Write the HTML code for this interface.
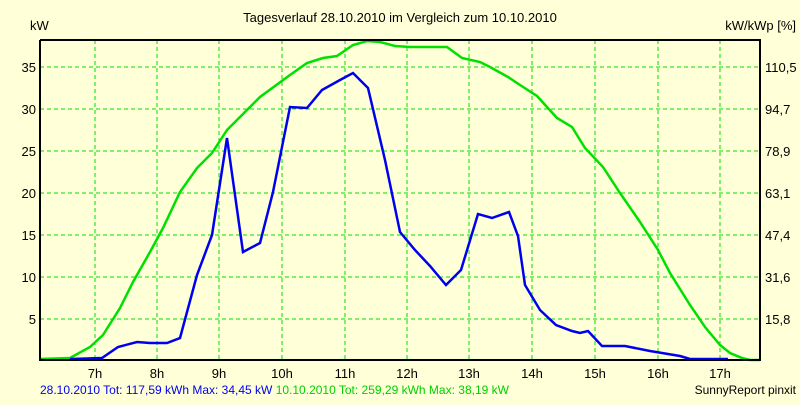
<!DOCTYPE html>
<html><head><style>body{margin:0;background:#FFFFD8}</style></head><body>
<svg width="800" height="400" xmlns="http://www.w3.org/2000/svg" font-family="Liberation Sans, sans-serif" font-size="13">
<rect width="800" height="400" fill="#FFFFD8"/>
<text x="400" y="22" text-anchor="middle" fill="#000">Tagesverlauf 28.10.2010 im Vergleich zum 10.10.2010</text>
<text x="30" y="30" fill="#000">kW</text>
<text x="796" y="30" text-anchor="end" fill="#000">kW/kWp [%]</text>
<g stroke="#00E000" stroke-dasharray="4,3" stroke-width="1">
<line x1="95" y1="40" x2="95" y2="360"/><line x1="157" y1="40" x2="157" y2="360"/><line x1="219" y1="40" x2="219" y2="360"/><line x1="282" y1="40" x2="282" y2="360"/><line x1="345" y1="40" x2="345" y2="360"/><line x1="407" y1="40" x2="407" y2="360"/><line x1="469" y1="40" x2="469" y2="360"/><line x1="532" y1="40" x2="532" y2="360"/><line x1="595" y1="40" x2="595" y2="360"/><line x1="658" y1="40" x2="658" y2="360"/><line x1="720" y1="40" x2="720" y2="360"/>
<line x1="40" y1="67" x2="760" y2="67"/><line x1="40" y1="109" x2="760" y2="109"/><line x1="40" y1="151" x2="760" y2="151"/><line x1="40" y1="193" x2="760" y2="193"/><line x1="40" y1="235" x2="760" y2="235"/><line x1="40" y1="277" x2="760" y2="277"/><line x1="40" y1="319" x2="760" y2="319"/>
</g>
<polyline fill="none" stroke="#00E000" stroke-width="2.5" points="40,359 70,358 90,347 103,335 120,308 133,282 150,252 163,228 180,192 197,168 212,153 227,130 247,110 260,97 290,75 307,63 323,58 337,56 353,45 367,41 380,42 395,46 410,47 447,47 462,58 480,62 490,67 508,77 520,85 537,96 557,118 572,127 585,148 603,167 620,193 640,222 658,250 670,273 690,305 705,327 720,345 730,353 742,358 750,360 760,360"/>
<polyline fill="none" stroke="#0000F0" stroke-width="2.5" points="70,359 102,358 118,347 137,342 150,343 167,343 180,338 197,275 212,235 227,138 243,252 260,243 273,192 290,107 307,108 322,90 340,80 353,73 368,88 385,160 400,232 415,250 430,266 446,285 461,270 478,214 492,218 509,212 518,236 525,285 540,310 556,325 572,331 580,333 588,331 602,346 625,346 650,351 680,356 690,359 728,359"/>
<polyline fill="none" stroke="#000" stroke-width="2" points="40,40 40,360 760,360 760,40 40,40"/>
<g text-anchor="end" fill="#000">
<text x="36" y="72">35</text><text x="36" y="114">30</text><text x="36" y="156">25</text><text x="36" y="198">20</text><text x="36" y="240">15</text><text x="36" y="282">10</text><text x="36" y="324">5</text>
</g>
<g fill="#000">
<text x="765" y="72">110,5</text><text x="765" y="114">94,7</text><text x="765" y="156">78,9</text><text x="765" y="198">63,1</text><text x="765" y="240">47,4</text><text x="765" y="282">31,6</text><text x="765" y="324">15,8</text>
</g>
<g text-anchor="middle" fill="#000">
<text x="95" y="378">7h</text><text x="157" y="378">8h</text><text x="219" y="378">9h</text><text x="282" y="378">10h</text><text x="345" y="378">11h</text><text x="407" y="378">12h</text><text x="469" y="378">13h</text><text x="532" y="378">14h</text><text x="595" y="378">15h</text><text x="658" y="378">16h</text><text x="720" y="378">17h</text>
</g>
<text x="40" y="394" font-size="12" fill="#0000F0">28.10.2010 Tot: 117,59 kWh Max: 34,45 kW <tspan fill="#00D000">10.10.2010 Tot: 259,29 kWh Max: 38,19 kW</tspan></text>
<text x="796" y="394" font-size="12" text-anchor="end" fill="#000">SunnyReport pinxit</text>
</svg>
</body></html>
